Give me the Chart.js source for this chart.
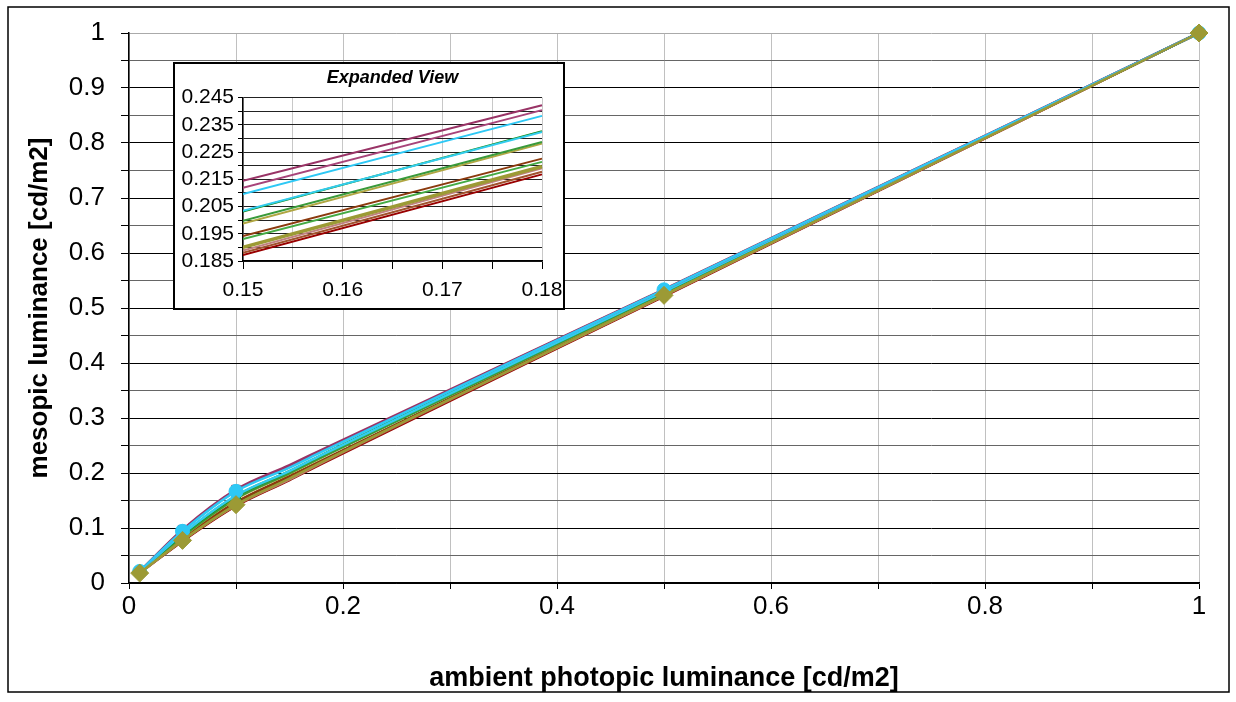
<!DOCTYPE html>
<html>
<head>
<meta charset="utf-8">
<script src="https://cdn.jsdelivr.net/npm/chart.js@4.4.1/dist/chart.umd.min.js"></script>
<style>
  body { margin: 0; background: #fff; }
  #wrap { position: relative; width: 1236px; height: 702px; }
  #main-chart { position: absolute; left: 0; top: 0; }
  #inset-chart { position: absolute; left: 173px; top: 62px; }
</style>
</head>
<body>
<div id="wrap">
  <canvas id="main-chart" width="1236" height="702"></canvas>
  <canvas id="inset-chart" width="392" height="248"></canvas>
</div>
<script>
// ambient photopic luminance (x) and the mesopic luminance curves
const photopic = [0.01, 0.05, 0.1, 0.15, 0.18, 0.5, 1];
const markedPoints = [0.01, 0.05, 0.1, 0.5, 1];

const oliveCurve   = [0.018, 0.0775, 0.1424, 0.1900, 0.2197, 0.523, 1];
const cyanCurve    = [0.021, 0.094, 0.1666, 0.2096, 0.2383, 0.533, 1];
const plumCurve    = [0.021, 0.097, 0.170, 0.2145, 0.2422, 0.534, 1];
const plumCurve2   = [0.021, 0.095, 0.168, 0.2119, 0.2404, 0.533, 1];
const skyCurve     = [0.020, 0.089, 0.159, 0.2034, 0.2324, 0.530, 1];
const greenCurve   = [0.020, 0.088, 0.158, 0.2032, 0.2327, 0.530, 1];
const greenCurve2  = [0.020, 0.085, 0.154, 0.1998, 0.2287, 0.528, 1];
const khakiCurve   = [0.019, 0.084, 0.153, 0.1988, 0.2281, 0.527, 1];
const brownCurve   = [0.019, 0.081, 0.147, 0.1942, 0.2226, 0.525, 1];
const greenCurve3  = [0.019, 0.080, 0.146, 0.1931, 0.2214, 0.525, 1];
const rosyCurve    = [0.018, 0.078, 0.142, 0.1888, 0.2190, 0.523, 1];
const siennaCurve  = [0.018, 0.077, 0.141, 0.1880, 0.2178, 0.522, 1];
const darkRedCurve = [0.018, 0.076, 0.140, 0.1872, 0.2168, 0.521, 1];

const mainXLabels = [0, 0.2, 0.4, 0.6, 0.8, 1];
const mainYLabels = [0, 0.1, 0.2, 0.3, 0.4, 0.5, 0.6, 0.7, 0.8, 0.9, 1];
const insetXLabels = [0.15, 0.16, 0.17, 0.18];
const insetYLabels = [0.185, 0.195, 0.205, 0.215, 0.225, 0.235, 0.245];

// first entry is drawn on top
const series = [
  { label: 'Series 1',  data: oliveCurve,   color: '#9c9a35', marker: 'rectRot',  size: 9, width: 3.5 },
  { label: 'Series 2',  data: cyanCurve,    color: '#2ec8f5', marker: 'circle',   size: 7, width: 2 },
  { label: 'Series 3',  data: plumCurve,    color: '#993366', marker: 'rect',     size: 6, width: 2 },
  { label: 'Series 4',  data: plumCurve2,   color: '#a8447a', marker: 'triangle', size: 6, width: 2 },
  { label: 'Series 5',  data: skyCurve,     color: '#33ccee', marker: 'crossRot', size: 6, width: 2 },
  { label: 'Series 6',  data: greenCurve,   color: '#108a10', marker: 'triangle', size: 6, width: 2 },
  { label: 'Series 7',  data: greenCurve2,  color: '#3a9a3a', marker: 'crossRot', size: 6, width: 2 },
  { label: 'Series 8',  data: khakiCurve,   color: '#b0a642', marker: 'rect',     size: 6, width: 2 },
  { label: 'Series 9',  data: brownCurve,   color: '#8b3a0e', marker: 'rect',     size: 6, width: 2 },
  { label: 'Series 10', data: greenCurve3,  color: '#44aa44', marker: 'triangle', size: 6, width: 2 },
  { label: 'Series 11', data: rosyCurve,    color: '#c08080', marker: 'circle',   size: 5, width: 2 },
  { label: 'Series 12', data: siennaCurve,  color: '#a0522d', marker: 'rect',     size: 5, width: 2 },
  { label: 'Series 13', data: darkRedCurve, color: '#990000', marker: 'rect',     size: 5, width: 2 }
];

Chart.defaults.font.family = "'Liberation Sans', Arial, sans-serif";
Chart.defaults.color = '#000';

const labelAt = (list, v) => {
  const hit = list.find(t => Math.abs(t - v) < 1e-9);
  return hit === undefined ? '' : String(hit);
};

const framePlugin = {
  id: 'frame',
  beforeDraw(chart) {
    const ctx = chart.ctx;
    ctx.save();
    ctx.fillStyle = '#fff';
    ctx.fillRect(0, 0, chart.width, chart.height);
    ctx.restore();
  },
  afterDraw(chart, args, opts) {
    const ctx = chart.ctx;
    ctx.save();
    ctx.strokeStyle = '#000';
    ctx.lineWidth = opts.width;
    ctx.strokeRect(...opts.rect);
    ctx.restore();
  }
};

const mainChart = () => {
  const datasets = series.map(s => ({
    label: s.label,
    data: photopic.map((x, i) => ({ x: x, y: s.data[i] })),
    borderColor: s.color,
    backgroundColor: s.color,
    borderWidth: 2.5,
    pointStyle: s.marker,
    pointRadius: ctx => markedPoints.includes(photopic[ctx.dataIndex]) ? s.size : 0,
    pointBackgroundColor: s.color,
    pointBorderColor: s.color,
    pointBorderWidth: 1,
    cubicInterpolationMode: 'monotone',
    clip: false
  }));

  const options = {
    type: 'line',
    data: { datasets: datasets },
    options: {
      responsive: false,
      animation: false,
      layout: { padding: { left: 0, top: 33, right: 37, bottom: 0 } },
      plugins: {
        legend: { display: false },
        tooltip: { enabled: false },
        frame: { rect: [8, 7, 1221, 685], width: 1.5 }
      },
      scales: {
        x: {
          type: 'linear', min: 0, max: 1,
          afterFit: s => { s.height = 119; },
          ticks: {
            stepSize: 0.1, autoSkip: false, maxRotation: 0, padding: 2,
            font: { size: 26 },
            callback: v => labelAt(mainXLabels, v)
          },
          grid: { color: '#c0c0c0', lineWidth: 1, tickColor: '#000', tickLength: 6 },
          border: { color: '#000', width: 1.5 },
          title: {
            display: true, text: 'ambient photopic luminance [cd/m2]',
            font: { size: 27, weight: 'bold' }, padding: { top: 0, bottom: 7 }
          }
        },
        y: {
          type: 'linear', min: 0, max: 1,
          afterFit: s => { s.width = 129; },
          ticks: {
            stepSize: 0.05, autoSkip: false, padding: 16,
            font: { size: 26 },
            callback: v => labelAt(mainYLabels, v)
          },
          grid: {
            color: ctx => {
              const v = ctx.tick ? ctx.tick.value : 0;
              if (Math.abs(v - 1) < 1e-9) return '#aaaaaa';
              return Math.round(v * 20) % 2 === 0 ? '#000' : '#666';
            },
            lineWidth: 1, tickColor: '#000', tickLength: 8
          },
          border: { color: '#000', width: 1.5 },
          title: {
            display: true, text: 'mesopic luminance [cd/m2]',
            font: { size: 26, weight: 'bold' }, padding: { top: 24, bottom: 0 }
          }
        }
      }
    },
    plugins: [framePlugin]
  };
  const canvas = document.getElementById('main-chart').getContext('2d');
  new Chart(canvas, options);
};

const insetChart = () => {
  const datasets = series.map(s => ({
    label: s.label,
    data: photopic.map((x, i) => ({ x: x, y: s.data[i] })),
    borderColor: s.color,
    backgroundColor: s.color,
    borderWidth: s.width,
    pointRadius: 0,
    tension: 0,
    clip: { left: 0, top: 0, right: 8, bottom: 0 }
  }));

  const options = {
    type: 'line',
    data: { datasets: datasets },
    options: {
      responsive: false,
      animation: false,
      layout: { padding: { left: 0, top: 0, right: 23, bottom: 0 } },
      plugins: {
        legend: { display: false },
        tooltip: { enabled: false },
        title: {
          display: true, fullSize: false, text: 'Expanded View',
          font: { size: 18, weight: 'bold', style: 'italic' },
          padding: { top: 5, bottom: 9 }
        },
        frame: { rect: [1, 1, 390, 246], width: 2 }
      },
      scales: {
        x: {
          type: 'linear', min: 0.15, max: 0.18,
          afterFit: s => { s.height = 49; s.paddingLeft = 0; s.paddingRight = 0; },
          ticks: {
            stepSize: 0.005, autoSkip: false, maxRotation: 0, padding: 9,
            font: { size: 21 },
            callback: v => labelAt(insetXLabels, v)
          },
          grid: { color: '#c8c8c8', lineWidth: 1, tickColor: '#000', tickLength: 8 },
          border: { color: '#000', width: 1.5 }
        },
        y: {
          type: 'linear', min: 0.185, max: 0.245,
          afterFit: s => { s.width = 70; s.paddingTop = 0; s.paddingBottom = 0; },
          ticks: {
            stepSize: 0.005, autoSkip: false, padding: 4,
            font: { size: 21 },
            callback: v => labelAt(insetYLabels, v)
          },
          grid: { color: '#222', lineWidth: 1, tickColor: '#000', tickLength: 5 },
          border: { color: '#000', width: 1.5 }
        }
      }
    },
    plugins: [framePlugin]
  };
  const canvas = document.getElementById('inset-chart').getContext('2d');
  new Chart(canvas, options);
};

window.onload = () => {
  mainChart();
  insetChart();
};
</script>
</body>
</html>
